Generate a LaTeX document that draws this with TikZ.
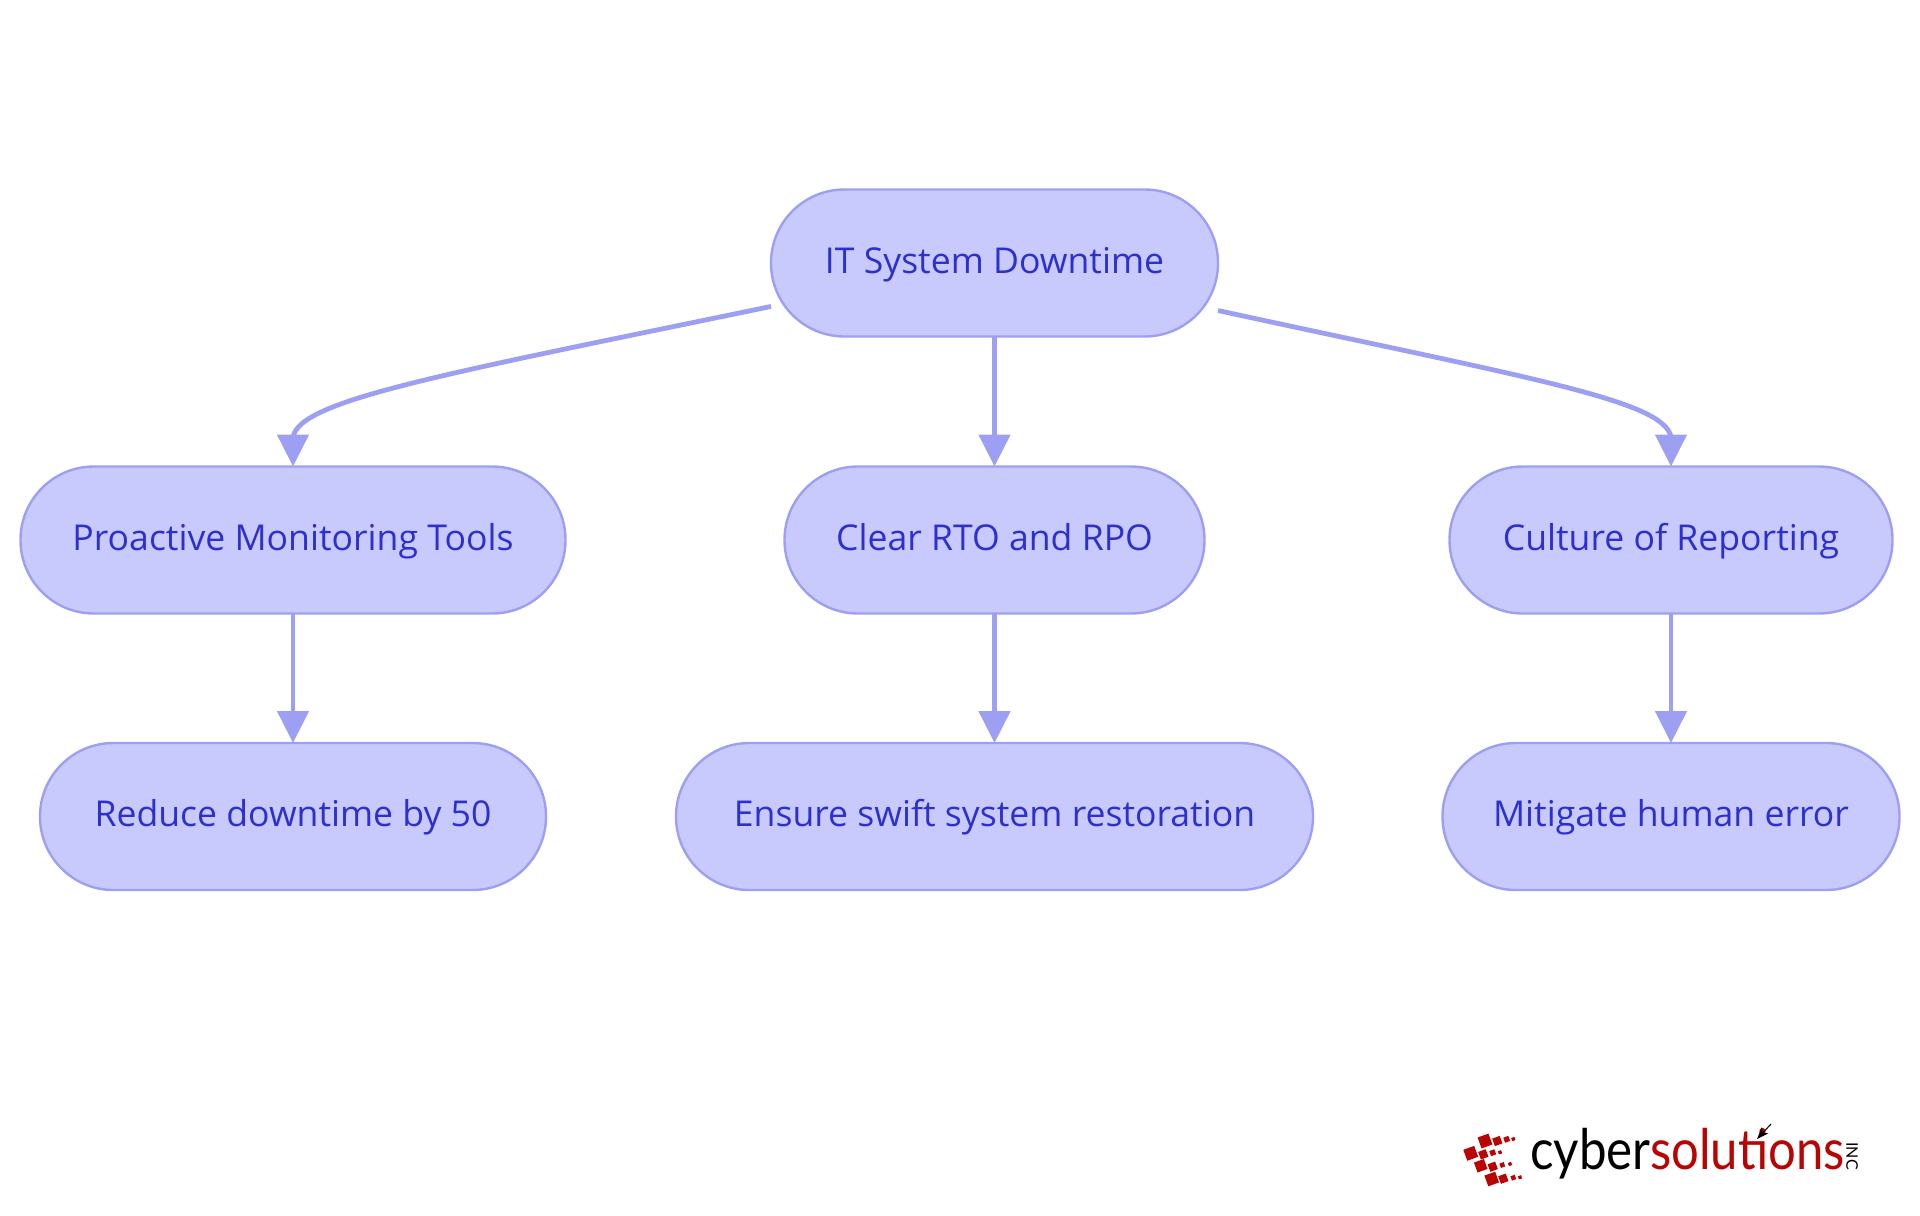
\documentclass[tikz,border=0pt]{standalone}
\usepackage{fontspec}
\usetikzlibrary{arrows.meta}
\setmainfont{Open Sans}
\newfontfamily\logofont{Lato}

\definecolor{boxfill}{HTML}{C8CAFD}
\definecolor{boxline}{HTML}{9DA0F2}
\definecolor{boxtext}{HTML}{2D30CE}
\definecolor{logored}{HTML}{B90404}

\tikzset{
  box/.style={draw=boxline,fill=boxfill,text=boxtext,line width=1.2pt,rectangle,
    rounded corners=36.7pt,minimum height=73.5pt,inner sep=0pt,outer sep=0pt,
    text height=14pt,text depth=4pt,font=\fontsize{17.8}{22}\selectfont},
  link/.style={draw=boxline,line width=2.4pt,-{Triangle[length=16pt,width=15.5pt]}},
  square/.style={fill=logored,rectangle,rotate=20,inner sep=0pt}
}

\begin{document}
\begin{tikzpicture}[x=0.5pt,y=-0.5pt]

  \useasboundingbox (0,0) rectangle (1920,1215);

  \begin{scope}[every node/.style={box}]
    \node[minimum width=223.5pt] (root)      at (994.5,263)   {IT System Downtime};
    \node[minimum width=272.5pt] (tools)     at (293,540)     {Proactive Monitoring Tools};
    \node[minimum width=210pt]   (rto)       at (994.5,540)   {Clear RTO and RPO};
    \node[minimum width=221.5pt] (culture)   at (1671,540)    {Culture of Reporting};
    \node[minimum width=253pt]   (reduce)    at (293,816.5)   {Reduce downtime by 50};
    \node[minimum width=318.5pt] (restore)   at (994.5,816.5) {Ensure swift system restoration};
    \node[minimum width=228.5pt] (mitigate)  at (1671,816.5)  {Mitigate human error};
  \end{scope}

  \coordinate (toolsin)   at (293,437);
  \coordinate (culturein) at (1671,437);

  \draw[link] (root.191) .. controls (440,375) and (300,400) .. (toolsin) -- (tools.north);
  \draw[link] (root.348) .. controls (1528,378) and (1664,400) .. (culturein) -- (culture.north);
  \draw[link] (root.south) -- (rto.north);
  \draw[link] (tools.south) -- (reduce.north);
  \draw[link] (rto.south) -- (restore.north);
  \draw[link] (culture.south) -- (mitigate.north);

  % logo
  \begin{scope}[every node/.style={square}]
    \node[minimum size=5.8pt] (s11) at (1485,1141)     {};
    \node[minimum size=4pt]   (s12) at (1497.3,1141)   {};
    \node[minimum size=2.7pt] (s13) at (1506.7,1139.3) {};
    \node[minimum size=1.7pt] (s14) at (1513.3,1139)   {};
    \node[minimum size=5.8pt] (s21) at (1470.7,1153.3) {};
    \node[minimum size=4pt]   (s22) at (1483.3,1154.3) {};
    \node[minimum size=2.7pt] (s23) at (1492.7,1152.7) {};
    \node[minimum size=1.7pt] (s24) at (1500,1152.3)   {};
    \node[minimum size=5.3pt] (s31) at (1480.7,1165.7) {};
    \node[minimum size=4pt]   (s32) at (1492.7,1166.7) {};
    \node[minimum size=2.3pt] (s33) at (1502.3,1165)   {};
    \node[minimum size=1.7pt] (s34) at (1510,1164)     {};
    \node[minimum size=5.7pt] (s41) at (1491.7,1179)   {};
    \node[minimum size=4pt]   (s42) at (1503.3,1178.7) {};
    \node[minimum size=2.3pt] (s43) at (1513.3,1177.7) {};
    \node[minimum size=1.7pt] (s44) at (1520,1177.3)   {};
  \end{scope}

  \node[anchor=base west,inner sep=0pt,xscale=.88,transform shape,font=\logofont\fontsize{28}{28}\selectfont] (cyber) at (1530,1169) {cyber};
  \node[anchor=base west,inner sep=0pt,xscale=.875,transform shape,text=logored,font=\logofont\fontsize{28}{28}\selectfont] (solutions) at (1650,1169) {solutions};
  \node[anchor=center,inner sep=0pt,rotate=-90,font=\logofont\fontsize{8}{8}\selectfont] (inc) at (1852,1156) {INC};

  \coordinate (tail) at (1771,1124);
  \coordinate (head) at (1757,1139);
  \draw[line width=.5pt,-{Stealth[length=6pt,width=4.5pt]}] (tail) -- (head);

\end{tikzpicture}
\end{document}
